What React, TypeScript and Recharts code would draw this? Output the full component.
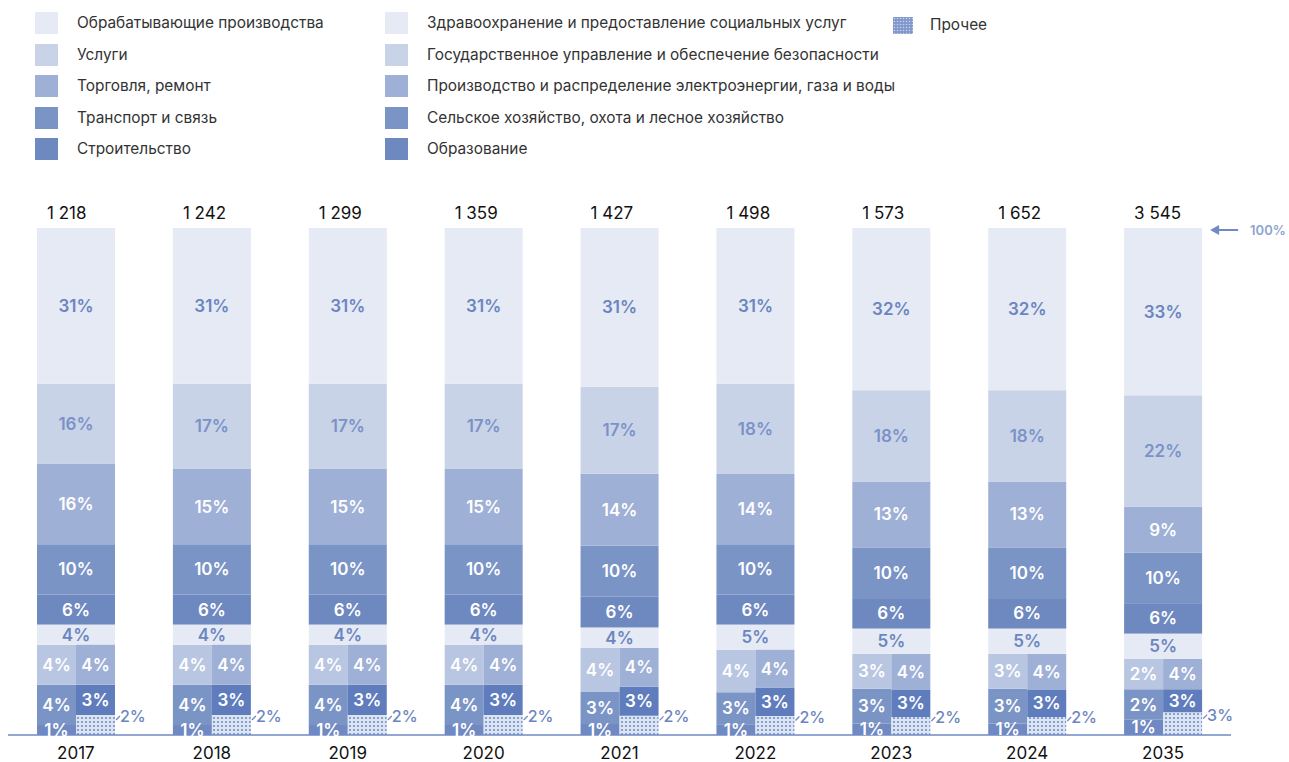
import { Bar, BarChart, LabelList, XAxis, YAxis } from "recharts";

// Stacked shares of industries per year; bottom part is split into two half-width columns.

const years = ["2017", "2018", "2019", "2020", "2021", "2022", "2023", "2024", "2035"];
const totals = [1218, 1242, 1299, 1359, 1427, 1498, 1573, 1652, 3545];

// full-width segments (%)
const manuf = [31, 31, 31, 31, 31, 31, 32, 32, 33];
const services = [16, 17, 17, 17, 17, 18, 18, 18, 22];
const trade = [16, 15, 15, 15, 14, 14, 13, 13, 9];
const transport = [10, 10, 10, 10, 10, 10, 10, 10, 10];
const construction = [6, 6, 6, 6, 6, 6, 6, 6, 6];
const health = [4, 4, 4, 4, 4, 5, 5, 5, 5];

// left half column (%)
const gov = [4, 4, 4, 4, 4, 4, 3, 3, 2];
const agri = [4, 4, 4, 4, 3, 3, 3, 3, 2];
const otherLeft = [1, 1, 1, 1, 1, 1, 1, 1, 1];

// right half column (%)
const energy = [4, 4, 4, 4, 4, 4, 4, 4, 4];
const edu = [3, 3, 3, 3, 3, 3, 3, 3, 3];
const other = [2, 2, 2, 2, 2, 2, 2, 2, 3];

const C = {
  c1: "#e6eaf4",
  c2: "#c9d3e7",
  c3: "#9eb0d6",
  c4: "#7b94c6",
  c5: "#6e88c0",
  gov: "#b9c6e2",
  edu: "#5f7dbd",
  otherLeft: "#7089c2",
};
const BLUE_TEXT = "#6b85c0";
const FONT = "Inter, 'Noto Sans', sans-serif";

const legendLeft = [
  { name: "Обрабатывающие производства", color: C.c1 },
  { name: "Услуги", color: C.c2 },
  { name: "Торговля, ремонт", color: C.c3 },
  { name: "Транспорт и связь", color: C.c4 },
  { name: "Строительство", color: C.c5 },
];
const legendRight = [
  { name: "Здравоохранение и предоставление социальных услуг", color: C.c1 },
  { name: "Государственное управление и обеспечение безопасности", color: C.c2 },
  { name: "Производство и распределение электроэнергии, газа и воды", color: C.c3 },
  { name: "Сельское хозяйство, охота и лесное хозяйство", color: C.c4 },
  { name: "Образование", color: C.c5 },
];

const data = years.map((year, i) => {
  const left = gov[i] + agri[i] + otherLeft[i];
  const right = energy[i] + edu[i] + other[i];
  const bottom = left + right;
  return {
    year,
    total: totals[i],
    marker: i === years.length - 1 ? "100%" : undefined,
    manuf: manuf[i],
    services: services[i],
    trade: trade[i],
    transport: transport[i],
    construction: construction[i],
    health: health[i],
    // half columns stretched so both halves fill the same height
    gov: (gov[i] * bottom) / left,
    agri: (agri[i] * bottom) / left,
    otherLeft: (otherLeft[i] * bottom) / left,
    energy: (energy[i] * bottom) / right,
    edu: (edu[i] * bottom) / right,
    other: (other[i] * bottom) / right,
    govLabel: gov[i],
    agriLabel: agri[i],
    otherLeftLabel: otherLeft[i],
    energyLabel: energy[i],
    eduLabel: edu[i],
    otherLabel: other[i],
  };
});

const box = (p: any) => {
  const vb = p.viewBox ?? p;
  const h = Number(vb.height);
  const y = h < 0 ? vb.y + h : vb.y;
  return { x: Number(vb.x), y: Number(y), width: Number(vb.width), height: Math.abs(h) };
};

const pctLabel = (color: string, wide: boolean) => (p: any) => {
  if (p.value == null) return null;
  const { x, y, width, height } = box(p);
  return (
    <text
      x={wide ? x + width : x + width / 2}
      y={y + height / 2}
      textAnchor="middle"
      dominantBaseline="central"
      fill={color}
      fontSize={17}
      fontWeight={600}
      fontFamily={FONT}
    >
      {p.value}%
    </text>
  );
};

const totalLabel = (p: any) => {
  const { x, y } = box(p);
  const s = String(p.value).replace(/\B(?=(\d{3})+(?!\d))/g, " ");
  return (
    <text x={x + 10} y={y - 9} textAnchor="start" fill="#111" fontSize={17} fontFamily={FONT}>
      {s}
    </text>
  );
};

const markerLabel = (p: any) => {
  if (!p.value) return null;
  const { x, y, width } = box(p);
  const x0 = x + width * 2 + 8;
  return (
    <g>
      <line x1={x0 + 4} y1={y + 2} x2={x0 + 28} y2={y + 2} stroke="#6f8ac4" strokeWidth={2} />
      <path d={`M${x0},${y + 2} L${x0 + 9},${y - 3} L${x0 + 9},${y + 7} Z`} fill="#6f8ac4" />
      <text x={x0 + 40} y={y + 2} dominantBaseline="central" fill="#8ea3d2" fontSize={13} fontWeight={600} fontFamily={FONT}>
        {p.value}
      </text>
    </g>
  );
};

const otherOutside = (p: any) => {
  const { x, y, width, height } = box(p);
  const cy = y + height / 2 - 9;
  return (
    <g>
      <line x1={x + width + 1} y1={cy + 4} x2={x + width + 5} y2={cy} stroke={BLUE_TEXT} strokeWidth={1.2} />
      <text x={x + width + 5} y={cy} dominantBaseline="central" fill={BLUE_TEXT} fontSize={16} fontWeight={500} fontFamily={FONT}>
        {p.value}%
      </text>
    </g>
  );
};

// left half draws the full-width segment so the two halves have no seam
const wideShape = (p: any) => <rect x={p.x} y={p.y} width={p.width * 2} height={p.height} fill={p.fill} />;

const full = [
  { key: "health", color: C.c1, text: BLUE_TEXT },
  { key: "construction", color: C.c5, text: "#fff" },
  { key: "transport", color: C.c4, text: "#fff" },
  { key: "trade", color: C.c3, text: "#fff" },
  { key: "services", color: C.c2, text: "#7a92c8" },
  { key: "manuf", color: C.c1, text: BLUE_TEXT },
];

function DotsIcon() {
  return (
    <svg width={20} height={17}>
      <defs>
        <pattern id="legdots" width="3" height="3" patternUnits="userSpaceOnUse">
          <rect width="3" height="3" fill="#7f97ca" />
          <circle cx="1.5" cy="1.5" r="0.8" fill="#c9d4ec" />
        </pattern>
      </defs>
      <rect width={20} height={17} fill="url(#legdots)" />
    </svg>
  );
}

function Legend() {
  const row = (item: { name: string; color: string }, i: number, sx: number, tx: number) => (
    <div key={item.name} style={{ position: "absolute", left: 0, top: 12 + i * 31.6, height: 22 }}>
      <div style={{ position: "absolute", left: sx, top: 0, width: 23, height: 22, background: item.color }} />
      <div
        style={{
          position: "absolute",
          left: tx,
          top: 0,
          lineHeight: "22px",
          whiteSpace: "nowrap",
          fontSize: 15.4,
          color: "#333",
        }}
      >
        {item.name}
      </div>
    </div>
  );
  return (
    <div style={{ position: "absolute", left: 0, top: 0, width: 1289, height: 170 }}>
      {legendLeft.map((it, i) => row(it, i, 35, 77))}
      {legendRight.map((it, i) => row(it, i, 385, 427))}
      <div style={{ position: "absolute", left: 893, top: 17 }}>
        <DotsIcon />
      </div>
      <div style={{ position: "absolute", left: 930, top: 14, lineHeight: "22px", fontSize: 15.4, color: "#333" }}>
        Прочее
      </div>
    </div>
  );
}

export default function App() {
  return (
    <div
      style={{
        position: "absolute",
        left: 0,
        top: 0,
        width: 1289,
        height: 762,
        background: "#fff",
        fontFamily: FONT,
      }}
    >
      <Legend />
      <BarChart
        width={1289}
        height={762}
        data={data}
        stackOffset="expand"
        barGap={0}
        barSize={39}
        margin={{ top: 228, right: 58, left: 8, bottom: 0 }}
      >
        <defs>
          <pattern id="dots" width="4" height="4" patternUnits="userSpaceOnUse">
            <rect width="4" height="4" fill="#dde4f2" />
            <circle cx="2" cy="2" r="1.1" fill="#7490c8" />
          </pattern>
        </defs>
        <XAxis
          dataKey="year"
          height={27}
          axisLine={{ stroke: "#6f8ac4", strokeWidth: 1.5 }}
          tickLine={false}
          tickMargin={6}
          tick={{ fill: "#111", fontSize: 17, fontFamily: FONT }}
        />
        <YAxis hide domain={[0, 1]} />

        {/* left stack */}
        <Bar dataKey="otherLeft" stackId="L" fill={C.otherLeft} isAnimationActive={false}>
          <LabelList dataKey="otherLeftLabel" content={pctLabel("#fff", false)} />
        </Bar>
        <Bar dataKey="agri" stackId="L" fill={C.c4} isAnimationActive={false}>
          <LabelList dataKey="agriLabel" content={pctLabel("#fff", false)} />
        </Bar>
        <Bar dataKey="gov" stackId="L" fill={C.gov} isAnimationActive={false}>
          <LabelList dataKey="govLabel" content={pctLabel("#fff", false)} />
        </Bar>
        {full.map((s) => (
          <Bar key={"L" + s.key} dataKey={s.key} stackId="L" fill={s.color} shape={wideShape} isAnimationActive={false}>
            <LabelList dataKey={s.key} content={pctLabel(s.text, true)} />
            {s.key === "manuf" && <LabelList dataKey="total" content={totalLabel} />}
            {s.key === "manuf" && <LabelList dataKey="marker" content={markerLabel} />}
          </Bar>
        ))}

        {/* right stack */}
        <Bar dataKey="other" stackId="R" fill="url(#dots)" isAnimationActive={false}>
          <LabelList dataKey="otherLabel" content={otherOutside} />
        </Bar>
        <Bar dataKey="edu" stackId="R" fill={C.edu} isAnimationActive={false}>
          <LabelList dataKey="eduLabel" content={pctLabel("#fff", false)} />
        </Bar>
        <Bar dataKey="energy" stackId="R" fill={C.c3} isAnimationActive={false}>
          <LabelList dataKey="energyLabel" content={pctLabel("#fff", false)} />
        </Bar>
        {full.map((s) => (
          <Bar key={"R" + s.key} dataKey={s.key} stackId="R" fill="transparent" isAnimationActive={false} />
        ))}
      </BarChart>
    </div>
  );
}
